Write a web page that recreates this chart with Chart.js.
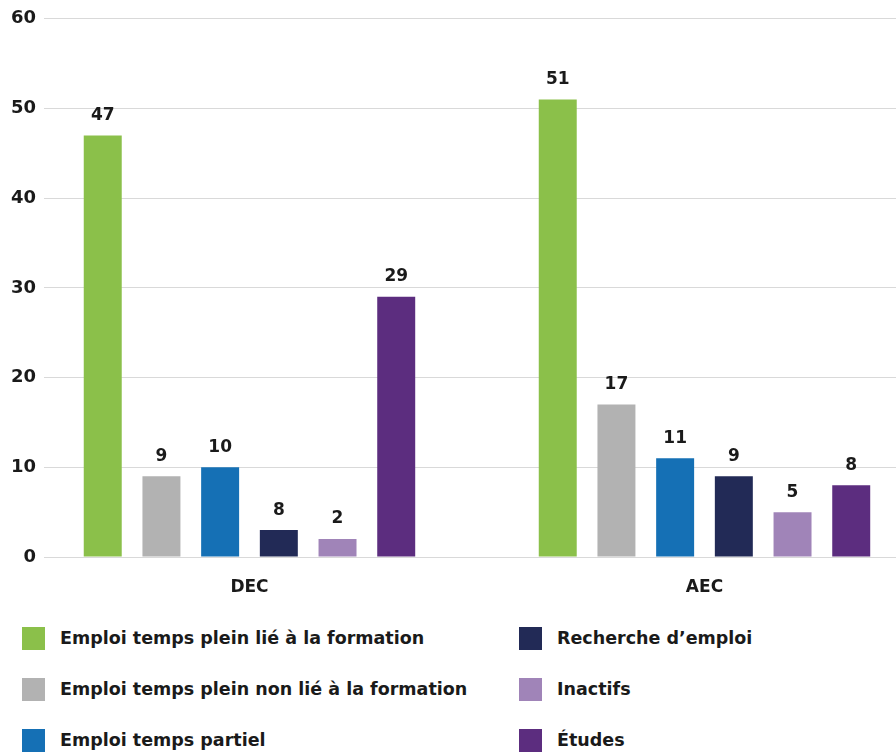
<!DOCTYPE html>
<html lang="fr">
<head>
<meta charset="utf-8">
<script src="https://cdn.jsdelivr.net/npm/chart.js@4"></script>
<style>
  html, body { margin: 0; padding: 0; background: #fff; }
  #wrap { position: relative; width: 896px; height: 754px; overflow: hidden; }
  #plot { position: absolute; left: 0; top: 0; width: 896px; height: 612px; }
  #legend { position: absolute; left: 0; top: 620px; width: 896px; height: 134px;
            font-family: 'DejaVu Sans', sans-serif; font-weight: bold;
            font-size: 17.5px; color: #1a1a1a; }
  .lg-item { position: absolute; display: flex; align-items: center; height: 24px; white-space: nowrap; }
  .lg-box { width: 23px; height: 23px; margin-right: 15px; }
</style>
</head>
<body>
<div id="wrap">
  <div id="plot"><canvas id="chart"></canvas></div>
  <div id="legend"></div>
</div>
<script>
// ─── data ────────────────────────────────────────────────────────────────────
const categories = ['DEC', 'AEC'];
const seriesNames = [
  'Emploi temps plein lié à la formation',
  'Emploi temps plein non lié à la formation',
  'Emploi temps partiel',
  'Recherche d\u2019emploi',
  'Inactifs',
  'Études',
];
// bar heights as drawn
const pleinLie    = [47, 51];
const pleinNonLie = [9, 17];
const partiel     = [10, 11];
const recherche   = [3, 9];
const inactifs    = [2, 5];
const etudes      = [29, 8];
// printed value labels (the DEC "Recherche" bar is labelled 8)
const labelsPleinLie    = ['47', '51'];
const labelsPleinNonLie = ['9', '17'];
const labelsPartiel     = ['10', '11'];
const labelsRecherche   = ['8', '9'];
const labelsInactifs    = ['2', '5'];
const labelsEtudes      = ['29', '8'];
const yTicks = [0, 10, 20, 30, 40, 50, 60];

const COLORS = ['#8bc04a', '#b2b2b2', '#1570b5', '#222a56', '#a084b8', '#5c2d7f'];
const FONT = "'DejaVu Sans', sans-serif";

const seriesValues = [pleinLie, pleinNonLie, partiel, recherche, inactifs, etudes];
const seriesLabels = [labelsPleinLie, labelsPleinNonLie, labelsPartiel, labelsRecherche, labelsInactifs, labelsEtudes];

const datasets = seriesNames.map((name, i) => ({
  label: name,
  data: categories.map((c, j) => ({ x: j, y: seriesValues[i][j] })),
  valueLabels: seriesLabels[i],
  backgroundColor: COLORS[i],
  borderWidth: 0,
  categoryPercentage: 0.774,
  barPercentage: 0.647,
}));

/** Draw the printed value above every bar. */
const valueLabelPlugin = {
  id: 'valueLabels',
  afterDatasetsDraw(chart) {
    const ctx = chart.ctx;
    ctx.save();
    ctx.font = `bold 17px ${FONT}`;
    ctx.fillStyle = '#1a1a1a';
    ctx.textAlign = 'center';
    ctx.textBaseline = 'middle';
    chart.data.datasets.forEach((ds, i) => {
      const meta = chart.getDatasetMeta(i);
      meta.data.forEach((bar, j) => {
        ctx.fillText(ds.valueLabels[j], bar.x, bar.y - 20);
      });
    });
    ctx.restore();
  },
};

new Chart(document.getElementById('chart'), {
  type: 'bar',
  data: { datasets },
  options: {
    responsive: true,
    maintainAspectRatio: false,
    animation: false,
    layout: { padding: { top: 17, right: 0, bottom: 0, left: 0 } },
    plugins: {
      legend: { display: false },
      tooltip: { enabled: false },
    },
    scales: {
      x: {
        type: 'linear',
        offset: false,
        min: -0.4516,
        max: 1.4209,
        grid: { display: false },
        border: { display: false },
        afterBuildTicks: (s) => { s.ticks = categories.map((c, j) => ({ value: j })); },
        afterFit: (s) => { s.height = 55; },
        ticks: {
          padding: 12,
          color: '#1a1a1a',
          font: { family: FONT, size: 17, weight: 'bold' },
          callback: (v) => categories[v],
        },
      },
      y: {
        min: 0,
        max: 60,
        afterBuildTicks: (s) => { s.ticks = yTicks.map(v => ({ value: v })); },
        afterFit: (s) => { s.width = 44; },
        grid: { color: '#d9d9d9', lineWidth: 1, drawTicks: false },
        border: { display: false },
        ticks: {
          padding: 8,
          color: '#1a1a1a',
          font: { family: FONT, size: 18, weight: 'bold' },
        },
      },
    },
  },
  plugins: [valueLabelPlugin],
});

// ─── legend: two columns of three ────────────────────────────────────────────
const legendEl = document.getElementById('legend');
const colX = [22, 519];
const rowY = [6, 57, 108];
seriesNames.forEach((name, i) => {
  const item = document.createElement('div');
  item.className = 'lg-item';
  item.style.left = colX[Math.floor(i / 3)] + 'px';
  item.style.top = rowY[i % 3] + 'px';
  item.innerHTML = `<span class="lg-box" style="background:${COLORS[i]}"></span>${name}`;
  legendEl.appendChild(item);
});
</script>
</body>
</html>
